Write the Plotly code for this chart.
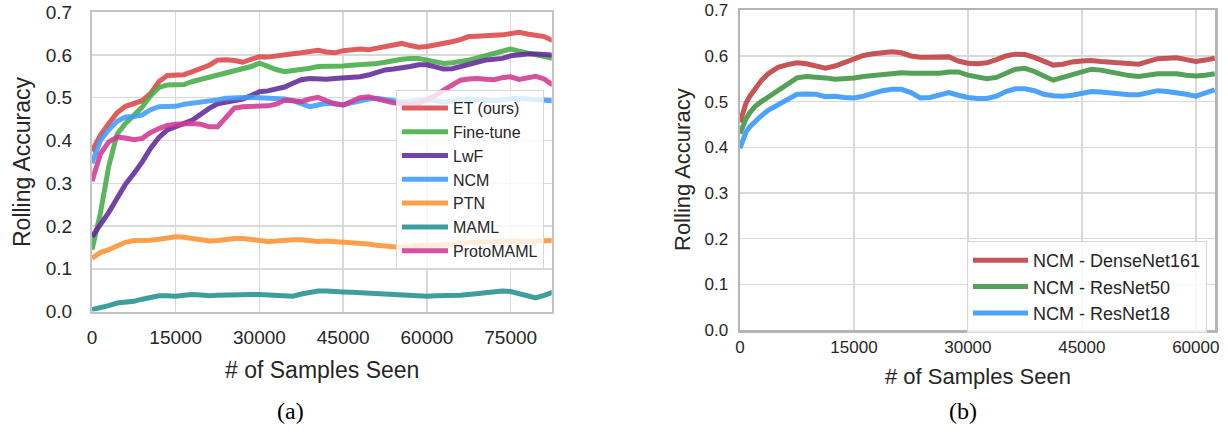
import plotly.graph_objects as go

# ---------------- data: panel (a) ----------------
samples_a = [i * 1500 for i in range(56)]  # 0 .. 82500

et_ours = [0.375, 0.412, 0.44, 0.465, 0.48, 0.487, 0.493, 0.51, 0.538, 0.552,
           0.553, 0.554, 0.561, 0.568, 0.576, 0.588, 0.589, 0.587, 0.583, 0.59,
           0.596, 0.595, 0.598, 0.602, 0.603, 0.605, 0.608, 0.611, 0.607, 0.605,
           0.61, 0.613, 0.614, 0.612, 0.616, 0.619, 0.622, 0.627, 0.622, 0.618,
           0.62, 0.623, 0.626, 0.631, 0.636, 0.643, 0.644, 0.644, 0.646, 0.647,
           0.651, 0.653, 0.649, 0.647, 0.643, 0.634]
fine_tune = [0.145, 0.23, 0.34, 0.415, 0.44, 0.458, 0.478, 0.505, 0.524, 0.53,
             0.531, 0.531, 0.538, 0.543, 0.547, 0.552, 0.556, 0.561, 0.566, 0.573,
             0.581, 0.572, 0.566, 0.561, 0.563, 0.566, 0.569, 0.573, 0.573, 0.572,
             0.574, 0.576, 0.577, 0.578, 0.58, 0.583, 0.587, 0.59, 0.592, 0.592,
             0.588, 0.584, 0.58, 0.582, 0.584, 0.588, 0.593, 0.598, 0.604, 0.61,
             0.614, 0.609, 0.604, 0.601, 0.597, 0.592]
lwf = [0.175, 0.203, 0.232, 0.265, 0.298, 0.323, 0.35, 0.382, 0.407, 0.425,
       0.434, 0.44, 0.448, 0.462, 0.475, 0.486, 0.49, 0.492, 0.497, 0.505,
       0.514, 0.516, 0.52, 0.525, 0.534, 0.542, 0.545, 0.543, 0.543, 0.545,
       0.546, 0.546, 0.549, 0.553, 0.559, 0.565, 0.567, 0.569, 0.573, 0.577,
       0.577, 0.572, 0.567, 0.568, 0.573, 0.579, 0.584, 0.588, 0.59, 0.592,
       0.598, 0.601, 0.602, 0.602, 0.601, 0.6]
ncm = [0.347, 0.4, 0.425, 0.445, 0.455, 0.456, 0.46, 0.472, 0.479, 0.479,
       0.48, 0.485, 0.487, 0.489, 0.492, 0.495, 0.499, 0.5, 0.501, 0.501,
       0.5, 0.499, 0.499, 0.497, 0.493, 0.485, 0.479, 0.483, 0.487, 0.486,
       0.483, 0.488, 0.494, 0.497, 0.499, 0.496, 0.492, 0.49, 0.492, 0.494,
       0.495, 0.493, 0.49, 0.492, 0.495, 0.497, 0.496, 0.494, 0.493, 0.495,
       0.497, 0.499, 0.497, 0.495, 0.494, 0.493]
ptn = [0.125, 0.138, 0.145, 0.154, 0.162, 0.166, 0.166, 0.167, 0.169, 0.173,
       0.175, 0.174, 0.171, 0.168, 0.165, 0.166, 0.169, 0.171, 0.171, 0.169,
       0.168, 0.164, 0.165, 0.167, 0.168, 0.168, 0.166, 0.164, 0.165, 0.164,
       0.163, 0.162, 0.161, 0.158, 0.155, 0.154, 0.152, 0.15, 0.153, 0.155,
       0.156, 0.155, 0.157, 0.158, 0.16, 0.161, 0.162, 0.163, 0.164, 0.163,
       0.164, 0.165, 0.164, 0.164, 0.165, 0.166]
maml = [0.005, 0.009, 0.014, 0.02, 0.022, 0.024, 0.029, 0.033, 0.037, 0.037,
        0.036, 0.038, 0.04, 0.039, 0.037, 0.038, 0.039, 0.04, 0.04, 0.04,
        0.04, 0.039, 0.038, 0.036, 0.036, 0.041, 0.045, 0.048, 0.048, 0.046,
        0.046, 0.045, 0.044, 0.043, 0.041, 0.039, 0.038, 0.037, 0.036, 0.035,
        0.036, 0.037, 0.037, 0.037, 0.038, 0.04, 0.042, 0.044, 0.046, 0.048,
        0.047, 0.041, 0.035, 0.032, 0.038, 0.045]
proto_maml = [0.305, 0.368, 0.397, 0.408, 0.406, 0.402, 0.405, 0.419, 0.428, 0.435,
              0.438, 0.44, 0.44, 0.438, 0.432, 0.432, 0.456, 0.476, 0.479, 0.479,
              0.479, 0.481, 0.485, 0.494, 0.493, 0.491, 0.497, 0.501, 0.493, 0.486,
              0.483, 0.49, 0.5, 0.502, 0.497, 0.493, 0.488, 0.486, 0.485, 0.487,
              0.495, 0.505, 0.518, 0.53, 0.541, 0.544, 0.545, 0.543, 0.542, 0.547,
              0.549, 0.543, 0.546, 0.55, 0.544, 0.53]

series_a = [
    ("ET (ours)", et_ours, "#dd4646"),
    ("Fine-tune", fine_tune, "#46ad46"),
    ("LwF", lwf, "#62289a"),
    ("NCM", ncm, "#3d9cfa"),
    ("PTN", ptn, "#ff9232"),
    ("MAML", maml, "#22918f"),
    ("ProtoMAML", proto_maml, "#d33893"),
]

# ---------------- data: panel (b) ----------------
samples_b = [0, 400, 800, 1300, 2000, 2800, 3700, 5000] + [6250 + 1250 * i for i in range(46)]

densenet161 = [0.455, 0.48, 0.497, 0.512, 0.53, 0.546, 0.561, 0.575,
               0.581, 0.585, 0.583, 0.578, 0.573, 0.578, 0.585, 0.594, 0.601, 0.605,
               0.607, 0.609, 0.607, 0.6, 0.597, 0.597, 0.596, 0.598, 0.589, 0.584,
               0.583, 0.585, 0.592, 0.6, 0.604, 0.603, 0.597, 0.589, 0.58, 0.582,
               0.587, 0.589, 0.59, 0.588, 0.586, 0.585, 0.584, 0.582, 0.588, 0.594,
               0.595, 0.596, 0.592, 0.588, 0.591, 0.595]
resnet50 = [0.43, 0.448, 0.463, 0.476, 0.49, 0.5, 0.51, 0.525,
            0.539, 0.552, 0.555, 0.554, 0.552, 0.549, 0.55, 0.552, 0.555, 0.557,
            0.561, 0.563, 0.563, 0.562, 0.562, 0.561, 0.562, 0.565, 0.565, 0.558,
            0.555, 0.55, 0.553, 0.562, 0.571, 0.573, 0.566, 0.556, 0.547, 0.553,
            0.559, 0.565, 0.571, 0.569, 0.565, 0.559, 0.557, 0.555, 0.558, 0.561,
            0.561, 0.561, 0.558, 0.556, 0.558, 0.561]
resnet18 = [0.398, 0.418, 0.434, 0.445, 0.457, 0.469, 0.481, 0.493,
            0.507, 0.516, 0.517, 0.516, 0.511, 0.512, 0.509, 0.508, 0.512, 0.519,
            0.524, 0.527, 0.527, 0.52, 0.508, 0.509, 0.514, 0.52, 0.514, 0.509,
            0.507, 0.507, 0.512, 0.522, 0.528, 0.528, 0.524, 0.516, 0.513, 0.512,
            0.514, 0.517, 0.522, 0.521, 0.519, 0.516, 0.515, 0.515, 0.519, 0.524,
            0.522, 0.52, 0.516, 0.512, 0.518, 0.526]

series_b = [
    ("NCM - DenseNet161", densenet161, "#c1464a"),
    ("NCM - ResNet50", resnet50, "#46994a"),
    ("NCM - ResNet18", resnet18, "#3d9cfa"),
]

ticks_a = [0, 15000, 30000, 45000, 60000, 75000]
ticks_b = [0, 15000, 30000, 45000, 60000]
ticks_y = [0.0, 0.1, 0.2, 0.3, 0.4, 0.5, 0.6, 0.7]

# ---------------- figure ----------------
W, H = 1228, 438
OFF = 0  # body margin is removed by the post script below
SANS = "Liberation Sans, Arial, sans-serif"
SERIF = "Liberation Serif, Times New Roman, serif"
TXT = "#262626"

fig = go.Figure()
for name, vals, col in series_a:
    fig.add_trace(go.Scatter(x=samples_a, y=vals, mode="lines", name=name,
                             line=dict(color=col, width=5), opacity=0.88,
                             xaxis="x", yaxis="y", legend="legend"))
for name, vals, col in series_b:
    fig.add_trace(go.Scatter(x=samples_b, y=vals, mode="lines", name=name,
                             line=dict(color=col, width=5), opacity=0.92,
                             xaxis="x2", yaxis="y2", legend="legend2"))

def px_x(p):
    return (p - OFF) / W

def px_y(p):
    return 1 - (p - OFF) / H

common_grid = dict(showgrid=True, gridcolor="#d9d9d9", gridwidth=1.5, zeroline=False,
                   showline=True, mirror=True, ticks="", automargin=False,
                   ticklabeloverflow="allow")

fig.update_layout(
    width=W, height=H, autosize=False,
    margin=dict(l=0, r=0, t=0, b=0, pad=0, autoexpand=False),
    paper_bgcolor="white", plot_bgcolor="white",
    showlegend=True,
    xaxis=dict(domain=[px_x(92), px_x(551.7)], range=[0, 82350], anchor="y",
               tickvals=ticks_a, ticktext=[str(t) for t in ticks_a],
               tickfont=dict(family=SANS, size=19, color=TXT),
               linecolor="#c4c4c4", linewidth=2, ticklabelstandoff=8, **common_grid),
    yaxis=dict(domain=[px_y(311.6), px_y(12.2)], range=[0, 0.7], anchor="x",
               tickvals=ticks_y, ticktext=["%.1f" % t for t in ticks_y],
               tickfont=dict(family=SANS, size=19, color=TXT),
               linecolor="#c4c4c4", linewidth=2, ticklabelstandoff=14, **common_grid),
    xaxis2=dict(domain=[px_x(740), px_x(1215)], range=[0, 62530], anchor="y2",
                tickvals=ticks_b, ticktext=[str(t) for t in ticks_b],
                tickfont=dict(family=SANS, size=17, color=TXT),
                linecolor="#b4b4b4", linewidth=2.5, ticklabelstandoff=0, **common_grid),
    yaxis2=dict(domain=[px_y(330), px_y(10.3)], range=[0, 0.7], anchor="x2",
                tickvals=ticks_y, ticktext=["%.1f" % t for t in ticks_y],
                tickfont=dict(family=SANS, size=17, color=TXT),
                linecolor="#b4b4b4", linewidth=2.5, ticklabelstandoff=6, **common_grid),
    legend=dict(x=px_x(544), y=px_y(90), xanchor="right", yanchor="top",
                bgcolor="rgba(255,255,255,0.8)", bordercolor="#d6d6d6", borderwidth=1,
                font=dict(family=SANS, size=16, color=TXT), itemwidth=46,
                tracegroupgap=0),
    legend2=dict(x=px_x(1207), y=px_y(241), xanchor="right", yanchor="top",
                 bgcolor="rgba(255,255,255,0.8)", bordercolor="#d6d6d6", borderwidth=1,
                 font=dict(family=SANS, size=18, color=TXT), itemwidth=55,
                 tracegroupgap=0),
)

annotations = [
    dict(text="# of Samples Seen", x=px_x(322), y=px_y(370), xref="paper", yref="paper",
         xanchor="center", yanchor="middle", showarrow=False,
         font=dict(family=SANS, size=23, color=TXT)),
    dict(text="Rolling Accuracy", x=px_x(22), y=px_y(162), xref="paper", yref="paper",
         xanchor="center", yanchor="middle", showarrow=False, textangle=-90,
         font=dict(family=SANS, size=23, color=TXT)),
    dict(text="# of Samples Seen", x=px_x(978), y=px_y(376), xref="paper", yref="paper",
         xanchor="center", yanchor="middle", showarrow=False,
         font=dict(family=SANS, size=22, color=TXT)),
    dict(text="Rolling Accuracy", x=px_x(683), y=px_y(170), xref="paper", yref="paper",
         xanchor="center", yanchor="middle", showarrow=False, textangle=-90,
         font=dict(family=SANS, size=22, color=TXT)),
    dict(text="(a)", x=px_x(290), y=px_y(411), xref="paper", yref="paper",
         xanchor="center", yanchor="middle", showarrow=False,
         font=dict(family=SERIF, size=24, color="black")),
    dict(text="(b)", x=px_x(963), y=px_y(411), xref="paper", yref="paper",
         xanchor="center", yanchor="middle", showarrow=False,
         font=dict(family=SERIF, size=24, color="black")),
]
fig.update_layout(annotations=annotations)

fig.write_html("out.html",
               config={"displayModeBar": False, "staticPlot": True},
               post_script="document.body.style.margin='0px';document.body.style.overflow='hidden';")
